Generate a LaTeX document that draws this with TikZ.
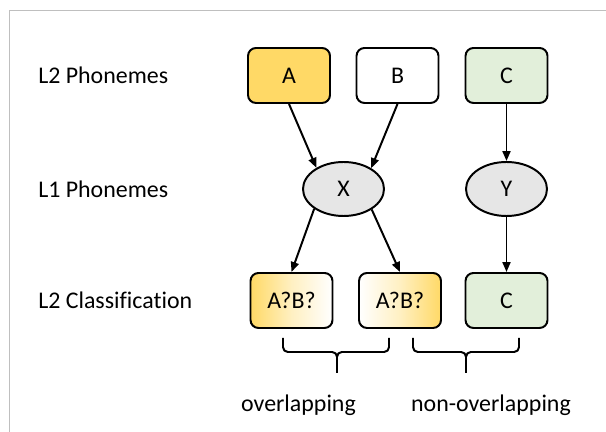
\documentclass[tikz,border=0pt]{standalone}
\usepackage{fontspec}
\setmainfont[Ligatures=NoCommon]{Carlito}
\usetikzlibrary{arrows.meta,shapes.geometric}
\definecolor{gold}{HTML}{FFD966}
\definecolor{palegreen}{HTML}{E2EFDA}
\definecolor{ellgray}{HTML}{E6E6E6}
\definecolor{framegray}{HTML}{BFBFBF}

\begin{document}
\begin{tikzpicture}[
	every node/.style={font=\fontsize{17}{20}\selectfont},
	phon/.style={draw, line width=1.4pt, rounded corners=0.2cm, minimum width=2.05cm, minimum height=1.375cm},
	native/.style={draw, ellipse, line width=1.4pt, fill=ellgray, inner sep=0pt, minimum width=2.025cm, minimum height=1.35cm},
	tag/.style={anchor=west, inner sep=0pt},
	link/.style={line width=1.4pt, -{Triangle[length=0.25cm,width=0.2cm]}},
	brace/.style={line width=1.4pt, rounded corners=0.12cm}
]
	\useasboundingbox (0,0) rectangle (15.15,10.8);
	\draw [framegray, line width=0.7pt] (0.225,0) -- (0.225,10.55) -- (15.15,10.55);
	\node [tag] (l2phon) at (0.95,8.9125) {L2 Phonemes};
	\node [tag] (l1phon) at (0.95,6.075) {L1 Phonemes};
	\node [tag] (l2class) at (0.95,3.2875) {L2 Classification};
	\node [phon, fill=gold] (a) at (7.225,8.9125) {A};
	\node [phon] (b) at (9.9375,8.9125) {B};
	\node [phon, fill=palegreen] (c) at (12.6625,8.9125) {C};
	\node [native] (x) at (8.5875,6.075) {X};
	\node [native] (y) at (12.6625,6.075) {Y};
	\node [phon, left color=gold, right color=white, middle color=gold!40] (ab1) at (7.2875,3.2875) {A?B?};
	\node [phon, left color=white, right color=gold, middle color=gold!40] (ab2) at (10,3.2875) {A?B?};
	\node [phon, fill=palegreen] (c2) at (12.6625,3.2875) {C};
	\draw [link] (a.south) -- (x.142);
	\draw [link] (b.south) -- (x.37);
	\draw [link] (c.south) -- (y.north);
	\draw [link] (x.214) -- (ab1.north);
	\draw [link] (x.324) -- (ab2.north);
	\draw [link] (y.south) -- (c2.north);
	\draw [brace] (7.075,2.35) -- (7.075,2.0) -- (8.425,2.0) -- (8.425,1.475);
	\draw [brace] (9.725,2.35) -- (9.725,2.0) -- (8.425,2.0) -- (8.425,1.475);
	\draw [brace] (10.325,2.35) -- (10.325,2.0) -- (11.65,2.0) -- (11.65,1.475);
	\draw [brace] (12.975,2.35) -- (12.975,2.0) -- (11.65,2.0) -- (11.65,1.475);
	\node [anchor=base] (overlap) at (7.4625,0.5) {overlapping};
	\node [anchor=base] (nonoverlap) at (12.275,0.5) {non-overlapping};
\end{tikzpicture}
\end{document}
